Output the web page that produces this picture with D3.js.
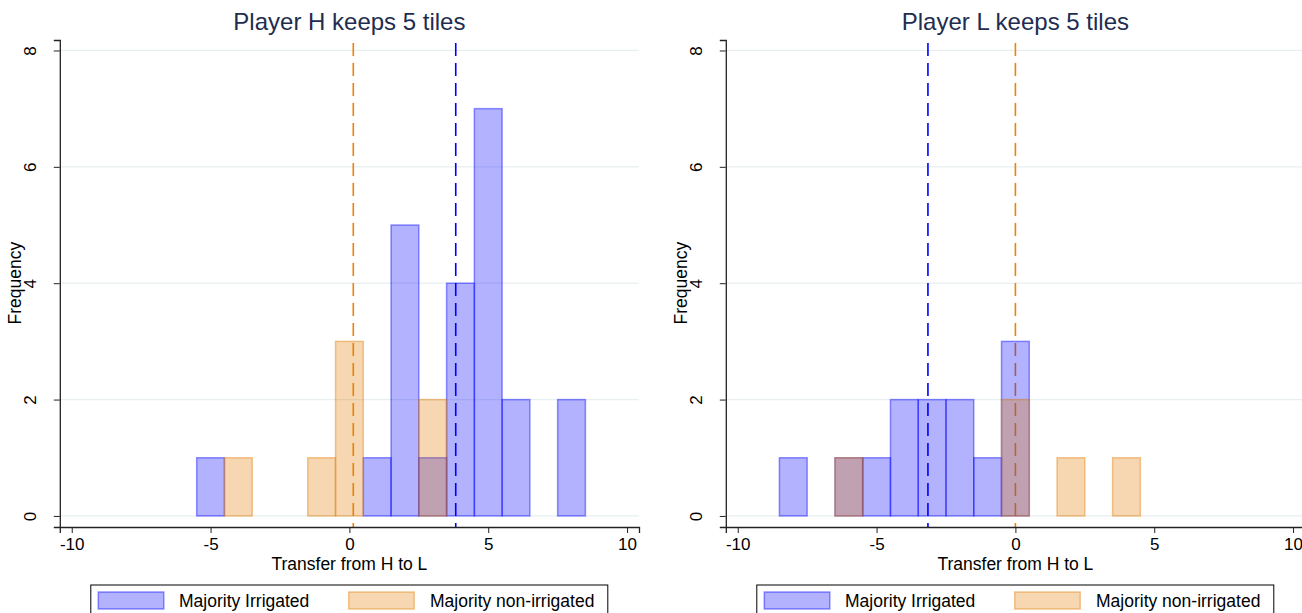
<!DOCTYPE html>
<html>
<head>
<meta charset="utf-8">
<script src="https://cdn.jsdelivr.net/npm/d3@7"></script>
<style>
  body { margin: 0; background: #fff; }
  svg { display: block; font-family: 'Liberation Sans', Arial, sans-serif; }
</style>
</head>
<body>
<div id="chart"></div>
<script>
// histogram bins: [bin centre, frequency], bin width = 1
const irrigatedH = [[-5, 1], [1, 1], [2, 5], [3, 1], [4, 4], [5, 7], [6, 2], [8, 2]];
const nonIrrigatedH = [[-4, 1], [-1, 1], [0, 3], [3, 2]];
const irrigatedL = [[-8, 1], [-6, 1], [-5, 1], [-4, 2], [-3, 2], [-2, 2], [-1, 1], [0, 3]];
const nonIrrigatedL = [[-6, 1], [0, 2], [2, 1], [4, 1]];

// group means shown as dashed vertical lines
const meansH = { irrigated: 3.83, nonIrrigated: 0.14 };
const meansL = { irrigated: -3.15, nonIrrigated: 0 };

const panelTitles = ['Player H keeps 5 tiles', 'Player L keeps 5 tiles'];
const xTicks = [-10, -5, 0, 5, 10];
const yTicks = [0, 2, 4, 6, 8];
const seriesNames = ['Majority Irrigated', 'Majority non-irrigated'];

const width = 1302;
const height = 613;
const panelShift = 666;
const plot = { left: 59.8, right: 639, top: 40, bottom: 527 };

const blue = 'rgb(0,0,255)';
const orange = 'rgb(226,124,0)';
const lineOrange = 'rgb(240,132,0)';

const svg = d3.select('#chart').append('svg').attr('width', width).attr('height', height);

const drawPanel = (offset, title, irrigated, nonIrrigated, means) => {
	const g = svg.append('g').attr('transform', `translate(${offset},0)`);

	const xScale = d3.scaleLinear().domain([-10.43, 10.43]).range([plot.left, plot.right]);
	const yScale = d3.scaleLinear().domain([-0.19, 8.18]).range([plot.bottom, plot.top]);

	// gridlines
	g.append('g')
		.selectAll('line')
		.data(yTicks)
		.enter()
		.append('line')
		.attr('x1', plot.left)
		.attr('x2', plot.right)
		.attr('y1', (d) => yScale(d))
		.attr('y2', (d) => yScale(d))
		.attr('stroke', '#e7eff1')
		.attr('stroke-width', 1.3);

	// mean lines (under the bars)
	[[means.irrigated, blue], [means.nonIrrigated, lineOrange]].forEach(([m, c]) => {
		g.append('line')
			.attr('x1', xScale(m))
			.attr('x2', xScale(m))
			.attr('y1', plot.top + 3)
			.attr('y2', plot.bottom)
			.attr('stroke', c)
			.attr('stroke-width', 1.6)
			.attr('stroke-dasharray', '13,7');
	});

	const drawBars = (data, color) => {
		g.append('g')
			.selectAll('rect')
			.data(data)
			.enter()
			.append('rect')
			.attr('x', (d) => xScale(d[0] - 0.5))
			.attr('y', (d) => yScale(d[1]))
			.attr('width', xScale(1) - xScale(0))
			.attr('height', (d) => yScale(0) - yScale(d[1]))
			.attr('fill', color)
			.attr('fill-opacity', 0.3)
			.attr('stroke', color)
			.attr('stroke-opacity', 0.42)
			.attr('stroke-width', 1.5);
	};
	drawBars(irrigated, blue);
	drawBars(nonIrrigated, orange);

	// axes
	const yAxis = g.append('g')
		.attr('transform', `translate(${plot.left},0)`)
		.call(d3.axisLeft(yScale).tickValues(yTicks).tickFormat((d) => String(d)).tickSizeOuter(0).tickSize(6));
	yAxis.selectAll('text')
		.attr('x', 0)
		.attr('y', -24)
		.attr('dy', 0)
		.attr('transform', 'rotate(-90)')
		.attr('text-anchor', 'middle')
		.attr('font-size', 17)
		.attr('fill', '#000');

	const xAxis = g.append('g')
		.attr('transform', `translate(0,${plot.bottom})`)
		.call(d3.axisBottom(xScale).tickValues(xTicks).tickFormat((d) => String(d)).tickSizeOuter(0).tickSize(6));
	xAxis.selectAll('text')
		.attr('y', 23)
		.attr('dy', 0)
		.attr('font-size', 17)
		.attr('fill', '#000');

	g.selectAll('.domain').attr('stroke', '#222').attr('stroke-width', 1.3);
	g.selectAll('.tick line').attr('stroke', '#222');

	const cx = (plot.left + plot.right) / 2;

	g.append('text')
		.attr('x', cx)
		.attr('y', 30)
		.attr('text-anchor', 'middle')
		.attr('font-size', 24)
		.attr('fill', '#1e2d50')
		.text(title);

	g.append('text')
		.attr('x', cx)
		.attr('y', 570)
		.attr('text-anchor', 'middle')
		.attr('font-size', 17.5)
		.attr('fill', '#000')
		.text('Transfer from H to L');

	g.append('text')
		.attr('transform', `translate(21,${yScale(4)}) rotate(-90)`)
		.attr('text-anchor', 'middle')
		.attr('font-size', 17.5)
		.attr('fill', '#000')
		.text('Frequency');

	// legend
	const lg = g.append('g');
	lg.append('rect')
		.attr('x', 90.8)
		.attr('y', 585)
		.attr('width', 517)
		.attr('height', 40)
		.attr('fill', '#fff')
		.attr('stroke', '#000')
		.attr('stroke-width', 1);
	[[blue, 98.3, 179], [orange, 348.7, 430]].forEach(([c, kx, tx], i) => {
		lg.append('rect')
			.attr('x', kx)
			.attr('y', 592)
			.attr('width', 65.5)
			.attr('height', 17)
			.attr('fill', c)
			.attr('fill-opacity', 0.3)
			.attr('stroke', c)
			.attr('stroke-opacity', 0.42)
			.attr('stroke-width', 1.5);
		lg.append('text')
			.attr('x', tx)
			.attr('y', 607)
			.attr('font-size', 17.5)
			.attr('fill', '#000')
			.text(seriesNames[i]);
	});
};

drawPanel(0, panelTitles[0], irrigatedH, nonIrrigatedH, meansH);
drawPanel(panelShift, panelTitles[1], irrigatedL, nonIrrigatedL, meansL);
</script>
</body>
</html>
